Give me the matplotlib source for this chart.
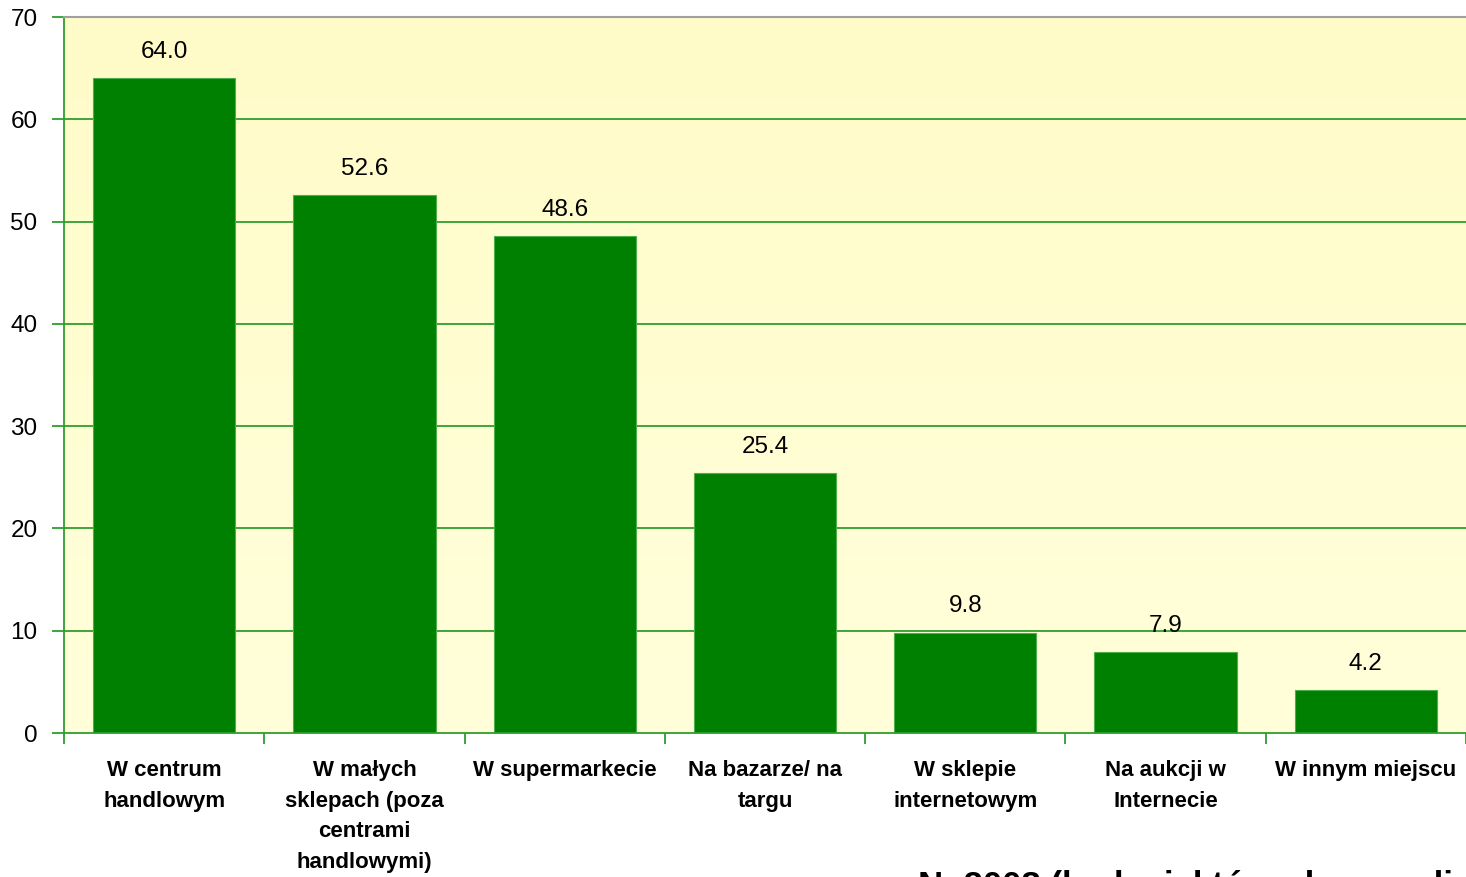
import numpy as np
import matplotlib
matplotlib.use("Agg")
import matplotlib.pyplot as plt
from matplotlib.colors import LinearSegmentedColormap

# data
categories = ["W centrum\nhandlowym", "W małych\nsklepach (poza\ncentrami\nhandlowymi)",
              "W supermarkecie", "Na bazarze/ na\ntargu", "W sklepie\ninternetowym",
              "Na aukcji w\nInternecie", "W innym miejscu"]
values = [64.0, 52.6, 48.6, 25.4, 9.8, 7.9, 4.2]
yticks = [0, 10, 20, 30, 40, 50, 60, 70]
note = "N=2008 (badani, którzy kupowali odzież)"

plt.rcParams['font.family'] = ['Liberation Sans', 'DejaVu Sans']

fig = plt.figure(figsize=(14.66, 8.77), dpi=100)
ax = fig.add_axes([64/1466, 1-733/877, 1-64/1466, (733-17)/877])

x = np.arange(len(values))
ax.set_xlim(-0.5, len(values)-0.5)
ax.set_ylim(0, 70)

# yellow gradient background
grad = np.linspace(0, 1, 256).reshape(-1, 1)
cm = LinearSegmentedColormap.from_list("bg", ["#FFFFDA", "#FFFBC8"])
ax.imshow(grad, aspect='auto', cmap=cm, origin='lower',
          extent=[-0.5, len(values)-0.5, 0, 70], zorder=0)

for t in yticks[1:]:
    ax.axhline(t, color='#2E9E2E', lw=1.3, zorder=1)

ax.bar(x, values, width=0.71, color='#008000', edgecolor='#4CAF4C', lw=0.8, zorder=2)
for xi, v in zip(x, values):
    ax.text(xi, v + 1.5, f"{v:.1f}", ha='center', va='bottom', fontsize=17.5)

ax.set_yticks(yticks)
ax.set_yticklabels([str(t) for t in yticks], fontsize=17.5)
ax.set_xticks(np.arange(-0.5, len(values)), minor=False)
ax.set_xticklabels([])
ax.tick_params(axis='y', length=9, color='#2E9E2E', width=1.3, pad=10)
ax.tick_params(axis='x', length=8, color='#2E9E2E', width=1.3)

for xi, c in zip(x, categories):
    ax.text(xi, -2.6, c, ha='center', va='top', fontsize=16, fontweight='bold',
            linespacing=1.62)

ax.spines['left'].set_color('#2E9E2E')
ax.spines['left'].set_linewidth(1.3)
ax.spines['bottom'].set_color('#2E9E2E')
ax.spines['bottom'].set_linewidth(1.3)
ax.spines['top'].set_color('#A0A0A0')
ax.spines['top'].set_linewidth(1.5)
ax.spines['right'].set_visible(False)

# footnote, cut off by the bottom edge as in the source image
fig.text(918/1466, 1-870/877, note, ha='left', va='top', fontsize=25, fontweight='bold')

fig.savefig("out.png", dpi=100)
